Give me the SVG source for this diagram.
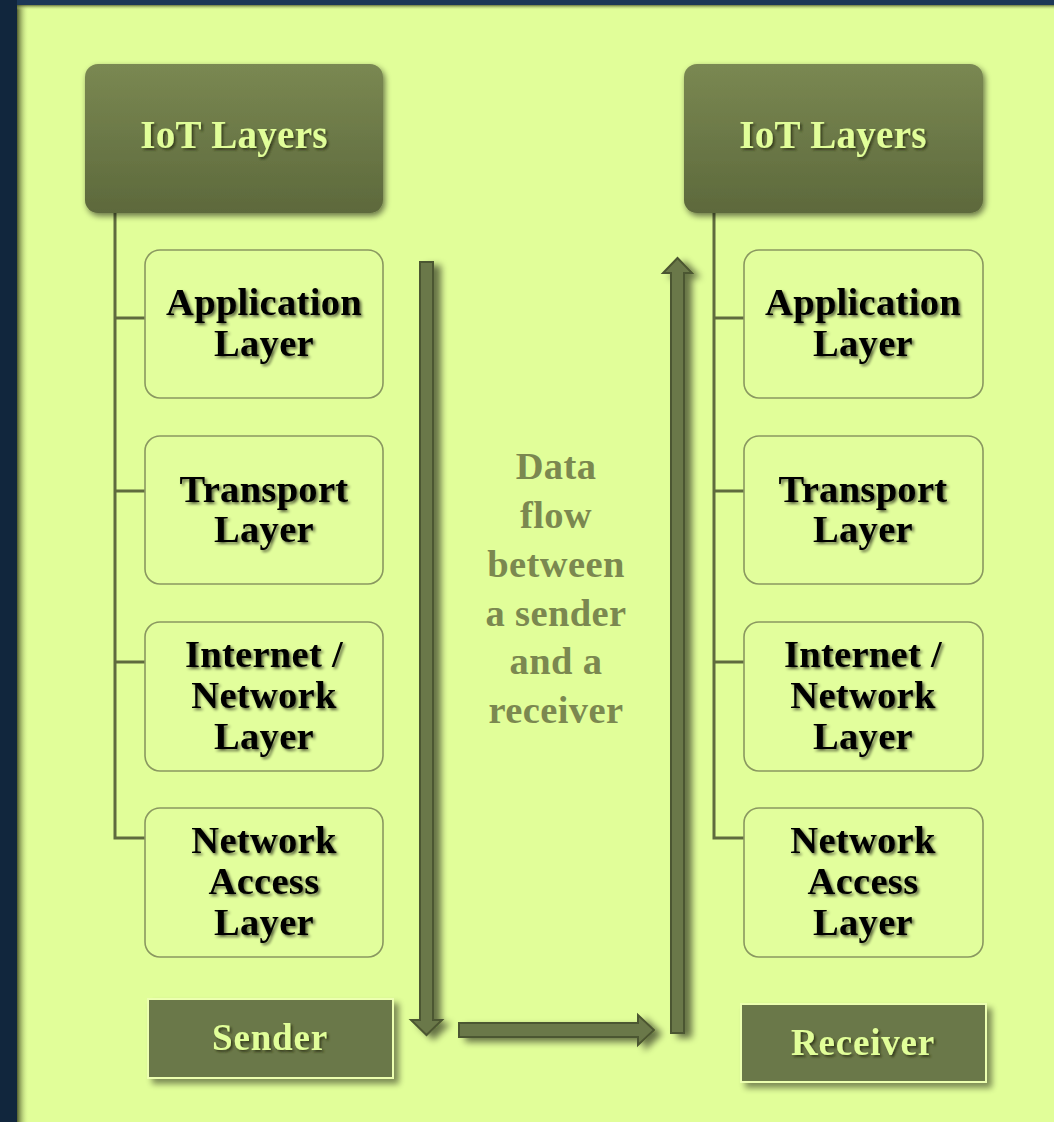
<svg xmlns="http://www.w3.org/2000/svg" width="1054" height="1122" viewBox="0 0 1054 1122">
  <defs>
    <linearGradient id="headFill" x1="0" y1="0" x2="0" y2="1">
      <stop offset="0" stop-color="#7a8852"/>
      <stop offset="1" stop-color="#5d693c"/>
    </linearGradient>
    <linearGradient id="edgeLeft" x1="0" y1="0" x2="1" y2="0">
      <stop offset="0" stop-color="#4a5428" stop-opacity="0.95"/>
      <stop offset="1" stop-color="#e1fe99" stop-opacity="0"/>
    </linearGradient>
    <linearGradient id="edgeTop" x1="0" y1="0" x2="0" y2="1">
      <stop offset="0" stop-color="#4a5428" stop-opacity="0.8"/>
      <stop offset="1" stop-color="#e1fe99" stop-opacity="0"/>
    </linearGradient>
    <filter id="boxShadow" x="-20%" y="-20%" width="140%" height="140%">
      <feGaussianBlur in="SourceAlpha" stdDeviation="3"/>
      <feOffset dx="2" dy="3" result="b"/>
      <feComponentTransfer><feFuncA type="linear" slope="0.55"/></feComponentTransfer>
      <feMerge><feMergeNode/><feMergeNode in="SourceGraphic"/></feMerge>
    </filter>
    <filter id="tagShadow" x="-20%" y="-30%" width="140%" height="170%">
      <feGaussianBlur in="SourceAlpha" stdDeviation="3"/>
      <feOffset dx="5" dy="5" result="b"/>
      <feComponentTransfer><feFuncA type="linear" slope="0.45"/></feComponentTransfer>
      <feMerge><feMergeNode/><feMergeNode in="SourceGraphic"/></feMerge>
    </filter>
    <filter id="arrowShadow" x="-60%" y="-10%" width="260%" height="120%">
      <feGaussianBlur in="SourceAlpha" stdDeviation="3.5"/>
      <feOffset dx="7" dy="4" result="b"/>
      <feComponentTransfer><feFuncA type="linear" slope="0.55"/></feComponentTransfer>
      <feMerge><feMergeNode/><feMergeNode in="SourceGraphic"/></feMerge>
    </filter>
    <filter id="darkText" x="-10%" y="-20%" width="120%" height="150%">
      <feGaussianBlur in="SourceAlpha" stdDeviation="1.6"/>
      <feOffset dx="2" dy="2" result="b"/>
      <feComponentTransfer><feFuncA type="linear" slope="0.6"/></feComponentTransfer>
      <feMerge><feMergeNode/><feMergeNode in="SourceGraphic"/></feMerge>
    </filter>
    <filter id="lightText" x="-10%" y="-20%" width="120%" height="150%">
      <feGaussianBlur in="SourceAlpha" stdDeviation="1.2"/>
      <feOffset dx="2" dy="2" result="b"/>
      <feFlood flood-color="#2c3216" flood-opacity="0.8"/>
      <feComposite in2="b" operator="in"/>
      <feMerge><feMergeNode/><feMergeNode in="SourceGraphic"/></feMerge>
    </filter>
  </defs>
  <style>
    .serif { font-family: "Liberation Serif", "Times New Roman", serif; font-weight: bold; text-anchor: middle; }
    .head { fill: url(#headFill); }
    .headText { font-size: 39px; fill: #e1fe99; letter-spacing: 0.3px; }
    .layer { fill: #e2fe9c; stroke: #8a9860; stroke-width: 1.6; }
    .layerText { font-size: 38.5px; fill: #000; letter-spacing: 0.3px; }
    .tag { fill: #6b7848; stroke: #ecffb0; stroke-width: 2; }
    .tagText { font-size: 37px; fill: #e1fe99; letter-spacing: 0.8px; }
    .tree { fill: none; stroke: #5f6b3e; stroke-width: 3; }
    .arrow { fill: #6b7848; stroke: #4c5630; stroke-width: 2; stroke-linejoin: miter; }
    .note { font-size: 38.5px; fill: #7b8850; letter-spacing: 0.4px; }
  </style>

  <!-- backdrop and panel -->
  <rect x="0" y="0" width="1054" height="1122" fill="#1c3857"/>
  <rect x="0" y="0" width="17" height="1122" fill="#11263d"/>
  <rect x="17" y="5" width="1037" height="1117" fill="#e1fe99"/>
  <rect x="17" y="5" width="12" height="1117" fill="url(#edgeLeft)"/>
  <rect x="17" y="5" width="1037" height="5" fill="url(#edgeTop)"/>

  <!-- connectors -->
  <g id="connectors">
    <path class="tree" d="M115 213 V838 H145 M115 318 H145 M115 491 H145 M115 662 H145"/>
    <path class="tree" d="M714 213 V838 H744 M714 318 H744 M714 491 H744 M714 662 H744"/>
    <g filter="url(#arrowShadow)">
      <path class="arrow" d="M420 262 H433 V1020 H442 L426.5 1035 L411 1020 H420 Z"/>
      <path class="arrow" d="M459 1023 H638 V1015 L654 1030 L638 1045 V1037 H459 Z"/>
      <path class="arrow" d="M671 1033 V273 H663 L677.5 258 L692 273 H684 V1033 Z"/>
    </g>
  </g>

  <!-- sender stack -->
  <g id="sender-head" filter="url(#boxShadow)">
    <rect class="head" x="85" y="64" width="298" height="149" rx="13"/>
    <text class="serif headText" x="234" y="148" filter="url(#lightText)">IoT Layers</text>
  </g>
  <g id="sender-application">
    <rect class="layer" x="145" y="250" width="238" height="148" rx="15"/>
    <text class="serif layerText" filter="url(#darkText)"><tspan x="264" y="315">Application</tspan><tspan x="264" y="356">Layer</tspan></text>
  </g>
  <g id="sender-transport">
    <rect class="layer" x="145" y="436" width="238" height="148" rx="15"/>
    <text class="serif layerText" filter="url(#darkText)"><tspan x="264" y="502">Transport</tspan><tspan x="264" y="542">Layer</tspan></text>
  </g>
  <g id="sender-internet">
    <rect class="layer" x="145" y="622" width="238" height="149" rx="15"/>
    <text class="serif layerText" filter="url(#darkText)"><tspan x="264" y="667">Internet /</tspan><tspan x="264" y="708">Network</tspan><tspan x="264" y="749">Layer</tspan></text>
  </g>
  <g id="sender-access">
    <rect class="layer" x="145" y="808" width="238" height="149" rx="15"/>
    <text class="serif layerText" filter="url(#darkText)"><tspan x="264" y="853">Network</tspan><tspan x="264" y="894">Access</tspan><tspan x="264" y="935">Layer</tspan></text>
  </g>
  <g id="sender-tag" filter="url(#tagShadow)">
    <rect class="tag" x="148" y="999" width="245" height="79"/>
    <text class="serif tagText" x="270" y="1050" filter="url(#lightText)">Sender</text>
  </g>

  <!-- receiver stack -->
  <g id="receiver-head" filter="url(#boxShadow)">
    <rect class="head" x="684" y="64" width="299" height="149" rx="13"/>
    <text class="serif headText" x="833" y="148" filter="url(#lightText)">IoT Layers</text>
  </g>
  <g id="receiver-application">
    <rect class="layer" x="744" y="250" width="239" height="148" rx="15"/>
    <text class="serif layerText" filter="url(#darkText)"><tspan x="863" y="315">Application</tspan><tspan x="863" y="356">Layer</tspan></text>
  </g>
  <g id="receiver-transport">
    <rect class="layer" x="744" y="436" width="239" height="148" rx="15"/>
    <text class="serif layerText" filter="url(#darkText)"><tspan x="863" y="502">Transport</tspan><tspan x="863" y="542">Layer</tspan></text>
  </g>
  <g id="receiver-internet">
    <rect class="layer" x="744" y="622" width="239" height="149" rx="15"/>
    <text class="serif layerText" filter="url(#darkText)"><tspan x="863" y="667">Internet /</tspan><tspan x="863" y="708">Network</tspan><tspan x="863" y="749">Layer</tspan></text>
  </g>
  <g id="receiver-access">
    <rect class="layer" x="744" y="808" width="239" height="149" rx="15"/>
    <text class="serif layerText" filter="url(#darkText)"><tspan x="863" y="853">Network</tspan><tspan x="863" y="894">Access</tspan><tspan x="863" y="935">Layer</tspan></text>
  </g>
  <g id="receiver-tag" filter="url(#tagShadow)">
    <rect class="tag" x="741" y="1004" width="245" height="78"/>
    <text class="serif tagText" x="863" y="1055" filter="url(#lightText)">Receiver</text>
  </g>

  <!-- centre caption -->
  <g id="flow-note">
    <text class="serif note"><tspan x="556" y="479">Data</tspan><tspan x="556" y="528">flow</tspan><tspan x="556" y="577">between</tspan><tspan x="556" y="626">a sender</tspan><tspan x="556" y="674">and a</tspan><tspan x="556" y="723">receiver</tspan></text>
  </g>
</svg>
